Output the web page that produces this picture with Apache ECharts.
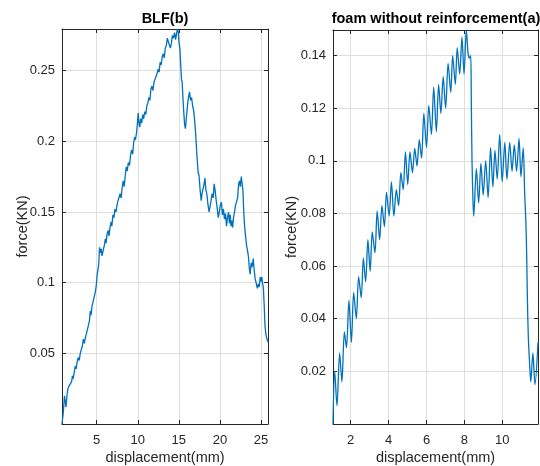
<!DOCTYPE html>
<html>
<head>
<meta charset="utf-8">
<script src="https://cdn.jsdelivr.net/npm/echarts@6/dist/echarts.min.js"></script>
<style>
html,body{margin:0;padding:0;background:#fff;}
#chart{width:540px;height:466px;}
</style>
</head>
<body>
<div id="chart"></div>
<script>
// BLF(b): displacement (mm) vs force (KN)
const blfCurve = [
  [0.78,0.000],[0.90,0.006],[1.00,0.013],[1.08,0.020],[1.18,0.016],[1.27,0.012],[1.38,0.020],[1.50,0.025],[1.65,0.027],[1.80,0.028],
  [1.95,0.030],[2.05,0.034],[2.15,0.032],[2.25,0.036],[2.40,0.041],[2.50,0.039],[2.62,0.044],[2.75,0.047],[2.88,0.045],[3.00,0.050],
  [3.12,0.049],[3.25,0.055],[3.38,0.060],[3.50,0.057],[3.62,0.061],[3.75,0.064],[3.88,0.063],[4.00,0.070],[4.12,0.073],[4.22,0.080],
  [4.32,0.077],[4.45,0.084],[4.58,0.087],[4.70,0.090],[4.82,0.093],[4.95,0.098],[5.05,0.105],[5.15,0.109],[5.25,0.113],[5.35,0.125],
  [5.45,0.121],[5.55,0.124],[5.65,0.119],[5.80,0.123],[5.95,0.127],[6.05,0.131],[6.15,0.128],[6.25,0.134],[6.40,0.137],[6.50,0.133],
  [6.62,0.139],[6.75,0.143],[6.85,0.140],[6.98,0.148],[7.10,0.146],[7.22,0.152],[7.35,0.150],[7.48,0.155],[7.60,0.158],[7.72,0.157],
  [7.85,0.163],[7.98,0.160],[8.10,0.167],[8.22,0.172],[8.35,0.168],[8.48,0.176],[8.60,0.182],[8.72,0.179],[8.85,0.185],[9.00,0.183],
  [9.12,0.190],[9.25,0.194],[9.38,0.191],[9.50,0.199],[9.62,0.203],[9.72,0.201],[9.85,0.206],[9.95,0.212],[10.05,0.220],[10.15,0.213],
  [10.25,0.210],[10.35,0.216],[10.48,0.213],[10.60,0.219],[10.72,0.216],[10.85,0.221],[10.98,0.219],[11.10,0.225],[11.22,0.227],[11.35,0.231],
  [11.48,0.229],[11.60,0.237],[11.72,0.239],[11.85,0.236],[11.98,0.242],[12.10,0.244],[12.22,0.243],[12.35,0.248],[12.48,0.251],[12.60,0.249],
  [12.72,0.256],[12.85,0.254],[12.98,0.260],[13.10,0.262],[13.22,0.259],[13.35,0.266],[13.48,0.268],[13.60,0.273],[13.72,0.272],[13.85,0.268],
  [13.98,0.266],[14.10,0.270],[14.22,0.275],[14.35,0.273],[14.48,0.277],[14.60,0.272],[14.72,0.276],[14.82,0.2795],[14.92,0.278],[15.02,0.270],
  [15.12,0.266],[15.22,0.255],[15.32,0.244],[15.40,0.242],[15.55,0.225],[15.70,0.212],[15.80,0.209],[15.95,0.219],[16.10,0.228],[16.20,0.232],
  [16.30,0.235],[16.42,0.229],[16.55,0.231],[16.68,0.225],[16.80,0.222],[16.92,0.215],[17.05,0.205],[17.20,0.190],[17.35,0.178],[17.45,0.176],
  [17.60,0.165],[17.72,0.158],[17.82,0.163],[17.95,0.162],[18.08,0.170],[18.18,0.174],[18.28,0.166],[18.40,0.163],[18.55,0.155],[18.68,0.150],
  [18.80,0.149],[18.92,0.158],[19.05,0.163],[19.18,0.160],[19.30,0.170],[19.42,0.165],[19.55,0.158],[19.68,0.152],[19.80,0.146],[19.92,0.150],
  [20.05,0.155],[20.18,0.157],[20.30,0.148],[20.42,0.152],[20.55,0.145],[20.68,0.149],[20.80,0.140],[20.92,0.146],[21.05,0.150],[21.15,0.142],
  [21.25,0.148],[21.35,0.140],[21.45,0.144],[21.55,0.139],[21.65,0.146],[21.78,0.150],[21.90,0.155],[22.02,0.157],[22.15,0.160],[22.28,0.170],
  [22.38,0.172],[22.48,0.168],[22.60,0.175],[22.70,0.176],[22.80,0.165],[22.90,0.150],[23.00,0.140],[23.12,0.133],[23.25,0.126],[23.38,0.122],
  [23.48,0.118],[23.58,0.110],[23.68,0.106],[23.80,0.114],[23.92,0.111],[24.05,0.117],[24.15,0.110],[24.28,0.103],[24.40,0.100],[24.55,0.096],
  [24.65,0.099],[24.78,0.097],[24.90,0.104],[25.00,0.101],[25.10,0.104],[25.20,0.099],[25.28,0.097],[25.38,0.085],[25.48,0.070],[25.58,0.064],
  [25.68,0.061],[25.85,0.058]
];

// foam without reinforcement(a): displacement (mm) vs force (KN)
const foamCurve = [
  [1.07,0.000],[1.16,0.020],[1.28,0.007],[1.42,0.027],[1.54,0.016],[1.67,0.035],[1.78,0.029],[1.91,0.047],[2.04,0.031],[2.16,0.050],
  [2.30,0.040],[2.42,0.056],[2.56,0.048],[2.67,0.063],[2.79,0.054],[2.91,0.070],[3.03,0.058],[3.14,0.073],[3.28,0.065],[3.40,0.081],
  [3.53,0.070],[3.65,0.083],[3.78,0.075],[3.89,0.088],[4.03,0.079],[4.15,0.092],[4.28,0.079],[4.41,0.089],[4.53,0.083],[4.65,0.0955],
  [4.77,0.089],[4.89,0.1034],[5.01,0.091],[5.13,0.1034],[5.26,0.0955],[5.38,0.1047],[5.50,0.098],[5.62,0.108],[5.74,0.101],[5.86,0.118],
  [6.00,0.105],[6.12,0.121],[6.26,0.110],[6.38,0.128],[6.52,0.111],[6.64,0.129],[6.76,0.118],[6.88,0.132],[7.01,0.120],[7.14,0.137],
  [7.28,0.126],[7.38,0.140],[7.52,0.129],[7.62,0.143],[7.75,0.133],[7.87,0.147],[7.98,0.133],[8.10,0.1497],[8.19,0.141],[8.26,0.139],
  [8.33,0.140],[8.36,0.125],[8.40,0.100],[8.45,0.085],[8.49,0.079],[8.63,0.097],[8.75,0.084],[8.87,0.099],[8.99,0.087],[9.12,0.100],
  [9.25,0.086],[9.38,0.105],[9.50,0.090],[9.61,0.104],[9.73,0.093],[9.86,0.110],[9.99,0.092],[10.13,0.107],[10.24,0.093],[10.39,0.107],
  [10.51,0.096],[10.63,0.106],[10.75,0.096],[10.88,0.1085],[10.98,0.094],[11.10,0.105],[11.18,0.087],[11.24,0.077],[11.28,0.065],[11.32,0.048],
  [11.37,0.033],[11.43,0.024],[11.50,0.016],[11.61,0.027],[11.72,0.015],[11.88,0.031]
];

const blfXTicks = [5, 10, 15, 20, 25];
const blfYTicks = [0.05, 0.1, 0.15, 0.2, 0.25];
const foamXTicks = [2, 4, 6, 8, 10];
const foamYTicks = [0.02, 0.04, 0.06, 0.08, 0.1, 0.12, 0.14];

const blfRange = { x: [0.78, 25.85], y: [0, 0.2795] };
const foamRange = { x: [1.07, 11.88], y: [0, 0.1497] };

const FONT = '"Liberation Sans", Arial, Helvetica, sans-serif';
const AXIS_COLOR = '#262626';
const GRID_COLOR = '#dedede';
const LINE_COLOR = '#0072BD';

function fmt(v) { return String(Number(v.toFixed(4))); }

function mainX(gridIndex, range, ticks) {
  return {
    type: 'value', gridIndex, position: 'bottom', min: range[0], max: range[1],
    name: 'displacement(mm)', nameLocation: 'middle', nameGap: 26, nameMoveOverlap: false,
    nameTextStyle: { fontFamily: FONT, fontSize: 14.5, color: AXIS_COLOR },
    axisLine: { show: true, onZero: false, lineStyle: { color: AXIS_COLOR, width: 1 } },
    axisTick: { show: true, inside: true, length: 4, customValues: ticks, lineStyle: { color: AXIS_COLOR } },
    axisLabel: { show: true, margin: 10, customValues: ticks, formatter: fmt,
      fontFamily: FONT, fontSize: 13, color: AXIS_COLOR },
    splitLine: { show: true, lineStyle: { color: GRID_COLOR, width: 1 } }
  };
}
function mirrorX(gridIndex, range, ticks) {
  return {
    type: 'value', gridIndex, position: 'top', min: range[0], max: range[1],
    axisLine: { show: true, onZero: false, lineStyle: { color: AXIS_COLOR, width: 1 } },
    axisTick: { show: true, inside: true, length: 4, customValues: ticks, lineStyle: { color: AXIS_COLOR } },
    axisLabel: { show: false, customValues: ticks },
    splitLine: { show: false }
  };
}
function mainY(gridIndex, range, ticks, gap) {
  return {
    type: 'value', gridIndex, position: 'left', min: range[0], max: range[1],
    name: 'force(KN)', nameLocation: 'middle', nameGap: gap, nameMoveOverlap: false,
    nameTextStyle: { fontFamily: FONT, fontSize: 14.5, color: AXIS_COLOR },
    axisLine: { show: true, onZero: false, lineStyle: { color: AXIS_COLOR, width: 1 } },
    axisTick: { show: true, inside: true, length: 4, customValues: ticks, lineStyle: { color: AXIS_COLOR } },
    axisLabel: { show: true, margin: 7, customValues: ticks, formatter: fmt,
      fontFamily: FONT, fontSize: 13, color: AXIS_COLOR },
    splitLine: { show: true, lineStyle: { color: GRID_COLOR, width: 1 } }
  };
}
function mirrorY(gridIndex, range, ticks) {
  return {
    type: 'value', gridIndex, position: 'right', min: range[0], max: range[1],
    axisLine: { show: true, onZero: false, lineStyle: { color: AXIS_COLOR, width: 1 } },
    axisTick: { show: true, inside: true, length: 4, customValues: ticks, lineStyle: { color: AXIS_COLOR } },
    axisLabel: { show: false, customValues: ticks },
    splitLine: { show: false }
  };
}

const chart = echarts.init(document.getElementById('chart'), null, { renderer: 'canvas' });
chart.setOption({
  backgroundColor: '#ffffff',
  animation: false,
  title: [
    { text: 'BLF(b)', left: 165, top: 11, padding: 0, textAlign: 'center',
      textStyle: { fontFamily: FONT, fontSize: 14.5, fontWeight: 'bold', color: '#000' } },
    { text: 'foam without reinforcement(a)', left: 436, top: 11, padding: 0, textAlign: 'center',
      textStyle: { fontFamily: FONT, fontSize: 14.5, fontWeight: 'bold', color: '#000' } }
  ],
  grid: [
    { left: 62, top: 29, width: 206, height: 395, containLabel: false, outerBoundsMode: 'none' },
    { left: 333, top: 30, width: 205, height: 394, containLabel: false, outerBoundsMode: 'none' }
  ],
  xAxis: [
    mainX(0, blfRange.x, blfXTicks),
    mirrorX(0, blfRange.x, blfXTicks),
    mainX(1, foamRange.x, foamXTicks),
    mirrorX(1, foamRange.x, foamXTicks)
  ],
  yAxis: [
    mainY(0, blfRange.y, blfYTicks, 32),
    mirrorY(0, blfRange.y, blfYTicks),
    mainY(1, foamRange.y, foamYTicks, 34),
    mirrorY(1, foamRange.y, foamYTicks)
  ],
  series: [
    { type: 'line', xAxisIndex: 0, yAxisIndex: 0, data: blfCurve, showSymbol: false,
      lineStyle: { color: LINE_COLOR, width: 1.3 }, smooth: false, silent: true },
    { type: 'line', xAxisIndex: 2, yAxisIndex: 2, data: foamCurve, showSymbol: false,
      lineStyle: { color: LINE_COLOR, width: 1.3 }, smooth: 0.3, silent: true }
  ]
});
</script>
</body>
</html>
